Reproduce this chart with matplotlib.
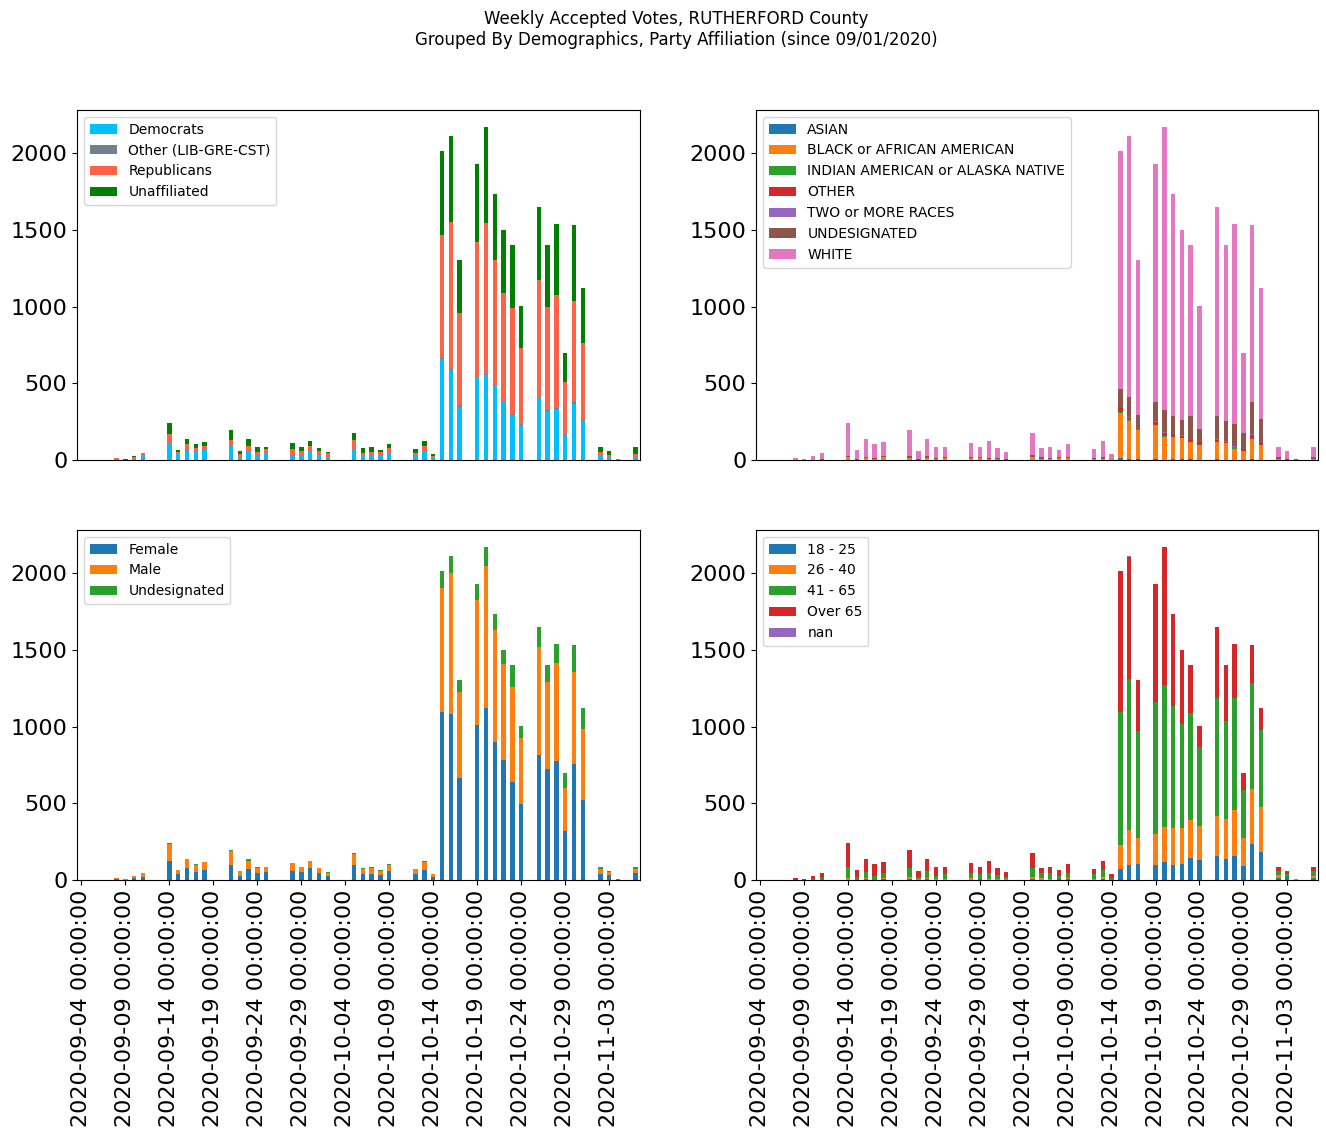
import matplotlib
matplotlib.use("Agg")
import matplotlib.pyplot as plt
import numpy as np
import pandas as pd

# full date axis, and the days that actually have votes
date_start = "2020-09-04"
date_end = "2020-11-06"
vote_days = [4, 5, 6, 7, 10, 11, 12, 13, 14, 17, 18, 19, 20, 21, 24, 25, 26, 27, 28,
             31, 32, 33, 34, 35, 38, 39, 40, 41, 42, 43, 45, 46, 47, 48, 49, 50,
             52, 53, 54, 55, 56, 57, 59, 60, 61, 63]

# party affiliation
democrats = [6, 1, 6, 33, 111, 39, 59, 52, 65, 98, 20, 59, 33, 46, 33, 33, 52, 33, 20,
             65, 33, 26, 33, 39, 26, 59, 13, 660, 590, 346, 540, 555, 483, 385, 294, 228,
             411, 320, 333, 163, 366, 255, 26, 20, 0, 13]
other_party = [0, 0, 0, 0, 0, 0, 6, 0, 0, 0, 0, 0, 0, 0, 0, 0, 0, 0, 0,
               0, 0, 0, 0, 0, 0, 0, 0, 6, 4, 13, 4, 3, 2, 3, 5, 5,
               2, 5, 6, 6, 10, 6, 0, 0, 0, 0]
republicans = [7, 1, 13, 13, 59, 13, 39, 26, 26, 33, 20, 33, 20, 26, 39, 26, 39, 26, 26,
               65, 13, 26, 20, 39, 20, 33, 13, 803, 960, 601, 879, 989, 821, 702, 693, 498,
               762, 674, 738, 340, 662, 503, 26, 13, 6, 26]
unaffiliated = [0, 4, 6, 0, 72, 13, 33, 26, 26, 65, 20, 46, 33, 13, 39, 26, 33, 20, 6,
                46, 33, 33, 13, 26, 26, 33, 13, 548, 561, 346, 509, 627, 430, 411, 412, 274,
                477, 405, 464, 189, 496, 359, 33, 26, 0, 46]

# race
asian = [0, 0, 0, 0, 0, 0, 0, 0, 0, 0, 0, 0, 0, 0, 0, 0, 0, 0, 0,
         0, 0, 0, 0, 0, 0, 0, 0, 13, 6, 6, 6, 0, 6, 6, 6, 0,
         6, 0, 0, 0, 6, 0, 0, 0, 0, 0]
black = [3, 0, 2, 0, 20, 0, 13, 6, 20, 13, 0, 13, 6, 13, 13, 13, 6, 6, 0,
         20, 6, 6, 13, 13, 6, 6, 6, 294, 248, 189, 222, 150, 144, 137, 111, 98,
         111, 111, 72, 59, 131, 98, 6, 3, 0, 6]
indian = [0, 0, 0, 0, 0, 0, 6, 0, 0, 3, 0, 0, 0, 0, 0, 6, 0, 0, 0,
          0, 0, 0, 0, 0, 0, 0, 0, 6, 13, 6, 0, 6, 0, 0, 0, 0,
          0, 0, 13, 0, 0, 0, 0, 0, 0, 0]
other_race = [0, 0, 0, 0, 0, 0, 0, 6, 0, 0, 0, 0, 0, 6, 0, 0, 6, 0, 0,
              0, 0, 0, 0, 0, 0, 0, 0, 26, 6, 0, 20, 20, 13, 13, 13, 20,
              13, 6, 0, 13, 26, 13, 0, 0, 0, 0]
two_races = [0, 0, 0, 0, 0, 0, 0, 0, 0, 0, 0, 0, 0, 0, 0, 0, 0, 0, 0,
             0, 0, 0, 0, 0, 0, 0, 0, 0, 6, 0, 6, 6, 0, 6, 0, 0,
             6, 6, 6, 0, 6, 0, 0, 0, 0, 0]
undesig_race = [0, 0, 0, 6, 6, 6, 0, 0, 6, 13, 6, 13, 6, 0, 6, 0, 0, 6, 6,
                13, 13, 6, 6, 6, 6, 13, 0, 124, 131, 91, 124, 144, 124, 98, 157, 85,
                150, 131, 144, 104, 209, 157, 13, 6, 6, 13]
white = [10, 6, 23, 40, 216, 59, 118, 92, 91, 167, 54, 112, 74, 66, 92, 66, 112, 67, 46,
         143, 60, 73, 47, 85, 60, 106, 33, 1554, 1705, 1014, 1554, 1848, 1449, 1241, 1117, 802,
         1366, 1150, 1306, 522, 1156, 855, 66, 50, 0, 66]

# gender
female = [6, 3, 13, 20, 124, 39, 78, 52, 65, 98, 26, 72, 46, 52, 59, 52, 78, 46, 26,
          98, 39, 39, 33, 59, 39, 65, 20, 1097, 1084, 666, 1012, 1123, 901, 783, 640, 496,
          816, 725, 777, 320, 757, 522, 39, 33, 0, 46]
male = [7, 3, 12, 26, 111, 26, 59, 46, 52, 91, 34, 53, 34, 33, 52, 33, 46, 33, 20,
        72, 34, 40, 27, 39, 33, 54, 19, 809, 920, 561, 816, 927, 731, 627, 620, 431,
        705, 568, 640, 281, 601, 464, 33, 19, 0, 26]
undesig_gender = [0, 0, 0, 0, 7, 0, 0, 6, 0, 7, 0, 13, 6, 0, 0, 0, 0, 0, 6,
                  6, 6, 6, 6, 6, 0, 6, 0, 111, 111, 79, 104, 124, 104, 91, 144, 78,
                  131, 111, 124, 97, 176, 137, 13, 7, 6, 13]

# age groups
age_18_25 = [0, 0, 0, 0, 0, 0, 6, 0, 6, 6, 0, 6, 0, 0, 0, 6, 0, 0, 0,
             6, 0, 0, 6, 6, 0, 6, 0, 72, 98, 104, 98, 118, 98, 104, 144, 131,
             157, 137, 157, 91, 235, 183, 13, 20, 0, 13]
age_26_40 = [0, 0, 0, 0, 13, 0, 6, 0, 6, 13, 6, 6, 6, 6, 13, 0, 6, 6, 6,
             13, 13, 6, 0, 6, 6, 13, 0, 157, 228, 170, 202, 228, 242, 235, 248, 222,
             261, 261, 300, 183, 359, 294, 20, 0, 6, 13]
age_41_65 = [0, 0, 6, 13, 72, 20, 39, 26, 33, 59, 13, 46, 20, 33, 33, 33, 39, 26, 13,
             59, 33, 39, 20, 33, 33, 46, 13, 868, 986, 698, 862, 927, 796, 679, 699, 516,
             770, 640, 731, 313, 692, 503, 26, 20, 0, 33]
age_over_65 = [13, 6, 20, 33, 157, 46, 85, 78, 72, 118, 39, 78, 59, 46, 65, 46, 78, 46, 33,
               98, 33, 40, 39, 59, 33, 59, 26, 920, 796, 333, 770, 901, 600, 483, 313, 137,
               464, 366, 353, 111, 248, 144, 26, 20, 0, 26]
age_nan = [0, 0, 0, 0, 0, 0, 0, 0, 0, 0, 0, 0, 0, 0, 0, 0, 0, 0, 0,
           0, 0, 0, 0, 0, 0, 0, 0, 0, 7, 0, 0, 0, 0, 0, 0, 0,
           0, 0, 0, 0, 0, 0, 0, 0, 0, 0]

TAB = plt.rcParams["axes.prop_cycle"].by_key()["color"]


def make_frame(columns):
    """Build a daily frame over the whole date range, zero on days without votes."""
    dates = pd.date_range(date_start, date_end, freq="D")
    df = pd.DataFrame(columns, index=dates[vote_days])
    return df.reindex(dates, fill_value=0)


def stacked(ax, df, colors):
    df.plot(kind="bar", stacked=True, ax=ax, color=colors, legend=False, rot=90)
    ax.legend(loc="upper left", fontsize=10)
    ax.tick_params(axis="both", labelsize=16)
    ticks = np.arange(0, len(df), 5)
    ax.set_xticks(ticks)
    ax.set_xticklabels([str(df.index[t]) for t in ticks])
    ax.set_xlabel("")


party_df = make_frame({"Democrats": democrats, "Other (LIB-GRE-CST)": other_party,
                       "Republicans": republicans, "Unaffiliated": unaffiliated})
race_df = make_frame({"ASIAN": asian, "BLACK or AFRICAN AMERICAN": black,
                      "INDIAN AMERICAN or ALASKA NATIVE": indian, "OTHER": other_race,
                      "TWO or MORE RACES": two_races, "UNDESIGNATED": undesig_race,
                      "WHITE": white})
gender_df = make_frame({"Female": female, "Male": male, "Undesignated": undesig_gender})
age_df = make_frame({"18 - 25": age_18_25, "26 - 40": age_26_40, "41 - 65": age_41_65,
                     "Over 65": age_over_65, "nan": age_nan})

fig = plt.figure(figsize=(13.26, 11.37), dpi=100)
W, H = 1326, 1137


def px_axes(x0, y0, x1, y1):
    return fig.add_axes([x0 / W, 1 - y1 / H, (x1 - x0) / W, (y1 - y0) / H])


ax_party = px_axes(77, 110, 640, 460)
ax_race = px_axes(756, 110, 1318, 460)
ax_gender = px_axes(77, 530, 640, 880)
ax_age = px_axes(756, 530, 1318, 880)

stacked(ax_party, party_df, ["deepskyblue", "slategray", "tomato", "green"])
stacked(ax_race, race_df, TAB[:7])
stacked(ax_gender, gender_df, TAB[:3])
stacked(ax_age, age_df, TAB[:5])

for ax in (ax_party, ax_race):
    ax.set_xticks([])

fig.suptitle("Weekly Accepted Votes, RUTHERFORD County\n"
             "Grouped By Demographics, Party Affiliation (since 09/01/2020)",
             fontsize=12, x=0.51, y=0.991)

fig.savefig("out.png", dpi=100)
